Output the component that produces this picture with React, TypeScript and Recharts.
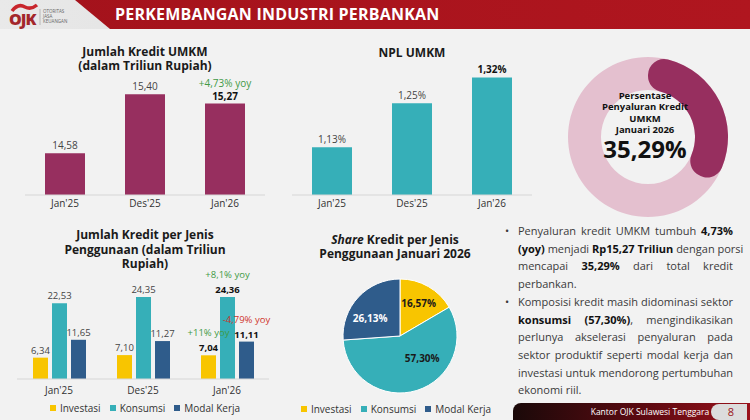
import React from 'react';
import { BarChart, Bar, XAxis, YAxis, PieChart, Pie, Cell } from 'recharts';

const periods = ["Jan'25", "Des'25", "Jan'26"];
const kreditUmkm = [14.58, 15.4, 15.27];
const kreditYoy = '+4,73% yoy';
const nplUmkm = [1.13, 1.25, 1.32];
const jenisNames = ['Investasi', 'Konsumsi', 'Modal Kerja'];
const investasi = [6.34, 7.1, 7.04];
const konsumsi = [22.53, 24.35, 24.36];
const modalKerja = [11.65, 11.27, 11.11];
const jenisYoy = ['+11% yoy', '+8,1% yoy', '-4,79% yoy'];
const shareJan26 = [16.57, 57.3, 26.13];
const porsiUmkm = 35.29;

const FONT = '"Open Sans", "Noto Sans", sans-serif';
const MAROON = '#972f5f';
const PINK = '#e4c0cf';
const TEAL = '#36afb8';
const YELLOW = '#f8c500';
const NAVY = '#2f5c8b';
const GREEN = '#3f9a46';
const RED = '#d0342c';
const jenisColors = [YELLOW, TEAL, NAVY];

const fmt = (v: number) => v.toFixed(2).replace('.', ',');
const last = periods.length - 1;

const kreditData = periods.map((p, i) => ({ period: p, value: kreditUmkm[i] }));
const nplData = periods.map((p, i) => ({ period: p, value: nplUmkm[i] }));
const jenisData = periods.map((p, i) => ({
  period: p,
  Investasi: investasi[i],
  Konsumsi: konsumsi[i],
  'Modal Kerja': modalKerja[i],
}));
const shareData = jenisNames.map((n, i) => ({ name: n, value: shareJan26[i] }));
const porsiData = [
  { name: 'UMKM', value: porsiUmkm },
  { name: 'Lainnya', value: 100 - porsiUmkm },
];

const axisProps = {
  dataKey: 'period',
  height: 25,
  interval: 0 as const,
  tickLine: false,
  tickSize: 0,
  tickMargin: 5,
  axisLine: { stroke: '#d6d6d6' },
  tick: { fontSize: 10, fill: '#333' },
};

const idxOf = (p: any, values: number[]) =>
  typeof p.index === 'number' ? p.index : values.indexOf(p.value);

function KreditChart() {
  const label = (p: any) => {
    const cx = p.x + p.width / 2;
    const bold = idxOf(p, kreditUmkm) === last;
    return (
      <g>
        <text x={cx} y={p.y - 4} textAnchor="middle" fontSize={10} fontWeight={bold ? 700 : 400} fill={bold ? '#111' : '#444'}>
          {fmt(p.value)}
        </text>
        {bold && (
          <text x={cx} y={p.y - 17} textAnchor="middle" fontSize={10} fill={GREEN}>
            {kreditYoy}
          </text>
        )}
      </g>
    );
  };
  return (
    <BarChart width={240} height={180} data={kreditData} margin={{ top: 11, right: 0, bottom: 0, left: 0 }} barSize={40}>
      <XAxis {...axisProps} />
      <YAxis hide domain={[14, 16]} allowDataOverflow />
      <Bar dataKey="value" fill={MAROON} isAnimationActive={false} label={label} />
    </BarChart>
  );
}

function NplChart() {
  const label = (p: any) => {
    const bold = idxOf(p, nplUmkm) === last;
    return (
      <text x={p.x + p.width / 2} y={p.y - 4} textAnchor="middle" fontSize={10} fontWeight={bold ? 700 : 400} fill={bold ? '#111' : '#444'}>
        {fmt(p.value)}%
      </text>
    );
  };
  return (
    <BarChart width={240} height={180} data={nplData} margin={{ top: 8, right: 0, bottom: 0, left: 0 }} barSize={40}>
      <XAxis {...axisProps} />
      <YAxis hide domain={[1, 1.4]} allowDataOverflow />
      <Bar dataKey="value" fill={TEAL} isAnimationActive={false} label={label} />
    </BarChart>
  );
}

function JenisChart() {
  const series = [investasi, konsumsi, modalKerja];
  const makeLabel = (s: number) => (p: any) => {
    const cx = p.x + p.width / 2;
    const bold = idxOf(p, series[s]) === last;
    const yoy = jenisYoy[s];
    return (
      <g>
        <text x={cx} y={p.y - 4} textAnchor="middle" fontSize={9.5} fontWeight={bold ? 700 : 400} fill={bold ? '#111' : '#444'}>
          {fmt(p.value)}
        </text>
        {bold && (
          <text x={cx} y={p.y - 19} textAnchor="middle" fontSize={9.5} fill={yoy.startsWith('-') ? RED : GREEN}>
            {yoy}
          </text>
        )}
      </g>
    );
  };
  return (
    <BarChart width={270} height={144} data={jenisData} margin={{ top: 18, right: 18, bottom: 0, left: 0 }} barSize={15} barGap={4}>
      <XAxis {...axisProps} tickMargin={8} />
      <YAxis hide domain={[0, 30]} allowDataOverflow />
      {jenisNames.map((n, s) => (
        <Bar key={n} dataKey={n} fill={jenisColors[s]} isAnimationActive={false} label={makeLabel(s)} />
      ))}
    </BarChart>
  );
}

function SharePie() {
  const RAD = Math.PI / 180;
  const nudge = [0, 28, 12];
  const dist = [0.66, 0.55, 0.61];
  const label = (p: any) => {
    const i = idxOf(p, shareJan26);
    const a = (p.midAngle + nudge[i]) * RAD;
    const r = p.outerRadius * dist[i];
    return (
      <text x={p.cx + r * Math.cos(a)} y={p.cy - r * Math.sin(a)} textAnchor="middle" dominantBaseline="central" fontSize={10} fontWeight={700} fill={i === 2 ? '#fff' : '#1a1a1a'}>
        {fmt(p.value)}%
      </text>
    );
  };
  return (
    <PieChart width={130} height={130}>
      <Pie data={shareData} dataKey="value" cx={65} cy={65} outerRadius={57} startAngle={90} endAngle={-270} stroke="#fff" strokeWidth={1} labelLine={false} label={label} isAnimationActive={false}>
        {shareData.map((d, i) => (
          <Cell key={d.name} fill={jenisColors[i]} />
        ))}
      </Pie>
    </PieChart>
  );
}

function PorsiDonut() {
  return (
    <PieChart width={170} height={170}>
      <Pie data={[{ name: 'Total', value: 100 }]} dataKey="value" cx={85} cy={85} innerRadius={47} outerRadius={80} startAngle={90} endAngle={-270} fill={PINK} stroke="none" isAnimationActive={false} />
      <Pie data={porsiData} dataKey="value" cx={85} cy={85} innerRadius={47} outerRadius={80} startAngle={90} endAngle={-270} cornerRadius={16} stroke="none" isAnimationActive={false}>
        <Cell fill={MAROON} />
        <Cell fill="transparent" />
      </Pie>
    </PieChart>
  );
}

function Legend({ left, width, top }: { left: number; width: number; top: number }) {
  return (
    <div style={{ position: 'absolute', left, top, width, display: 'flex', justifyContent: 'center', gap: 9, fontSize: 10, color: '#333', lineHeight: '12px' }}>
      {jenisNames.map((n, i) => (
        <div key={n} style={{ display: 'flex', alignItems: 'center' }}>
          <span style={{ display: 'inline-block', width: 6, height: 6, background: jenisColors[i], marginRight: 4 }} />
          {n}
        </div>
      ))}
    </div>
  );
}

const B = ({ children }: { children: React.ReactNode }) => <b style={{ color: '#111' }}>{children}</b>;

const lines1: React.ReactNode[] = [
  <>Penyaluran kredit UMKM tumbuh <B>4,73%</B></>,
  <><B>(yoy)</B> menjadi <B>Rp15,27 Triliun</B> dengan porsi</>,
  <>mencapai <B>35,29%</B> dari total kredit</>,
  <>perbankan.</>,
];
const lines2: React.ReactNode[] = [
  <>Komposisi kredit masih didominasi sektor</>,
  <><B>konsumsi (57,30%)</B>, mengindikasikan</>,
  <>perlunya akselerasi penyaluran pada</>,
  <>sektor produktif seperti modal kerja dan</>,
  <>investasi untuk mendorong pertumbuhan</>,
  <>ekonomi riil.</>,
];

function Bullet({ lines }: { lines: React.ReactNode[] }) {
  return (
    <div style={{ position: 'relative' }}>
      <span style={{ position: 'absolute', left: -13, top: 0 }}>•</span>
      {lines.map((l, i) => (
        <div key={i} style={{ whiteSpace: 'nowrap', textAlign: 'justify', textAlignLast: i === lines.length - 1 ? 'left' : 'justify' }}>
          {l}
        </div>
      ))}
    </div>
  );
}

export default function App() {
  const title: React.CSSProperties = {
    position: 'absolute',
    textAlign: 'center',
    fontWeight: 700,
    fontSize: 12,
    color: '#1a1a1a',
  };
  return (
    <div style={{ position: 'absolute', left: 0, top: 0, width: 750, height: 420, overflow: 'hidden', background: '#f2f2f2', fontFamily: FONT }}>
      {/* header */}
      <div style={{ position: 'absolute', left: 0, top: 0, width: 750, height: 29, background: 'linear-gradient(90deg,#e9e9e9,#d2d2d2)' }} />
      <div style={{ position: 'absolute', left: 0, top: 0, width: 750, height: 29, background: 'linear-gradient(90deg,#a3121b,#b0161f)', clipPath: 'polygon(75px 0, 750px 0, 750px 29px, 110px 29px)' }} />
      <svg style={{ position: 'absolute', left: 0, top: 0 }} width={78} height={29}>
        <path d="M12 11 Q18 3 25 7 Q31 10 37 5" stroke="#c8262c" strokeWidth={3.5} fill="none" />
        <text x={9} y={25} fontSize={16} fontWeight={800} fill="#a3262b" letterSpacing={-1}>OJK</text>
        <line x1={40} y1={9} x2={40} y2={25} stroke="#999" strokeWidth={0.6} />
        <text x={43} y={13} fontSize={4.5} fill="#666">OTORITAS</text>
        <text x={43} y={18} fontSize={4.5} fill="#666">JASA</text>
        <text x={43} y={23} fontSize={4.5} fill="#666">KEUANGAN</text>
      </svg>
      <div style={{ position: 'absolute', left: 115, top: 3, color: '#fff', fontWeight: 700, fontSize: 16, lineHeight: '22px', letterSpacing: 0.2 }}>
        PERKEMBANGAN INDUSTRI PERBANKAN
      </div>

      {/* Jumlah Kredit UMKM */}
      <div style={{ ...title, left: 45, top: 45, width: 200, lineHeight: '13.5px' }}>
        Jumlah Kredit UMKM<br />(dalam Triliun Rupiah)
      </div>
      <div style={{ position: 'absolute', left: 25, top: 40 }}>
        <KreditChart />
      </div>

      {/* NPL UMKM */}
      <div style={{ ...title, left: 332, top: 46, width: 160, lineHeight: '14px' }}>NPL UMKM</div>
      <div style={{ position: 'absolute', left: 292, top: 40 }}>
        <NplChart />
      </div>

      {/* donut */}
      <div style={{ position: 'absolute', left: 558, top: 47 }}>
        <PorsiDonut />
      </div>
      <div style={{ position: 'absolute', left: 585, top: 90, width: 120, textAlign: 'center', color: '#111', fontWeight: 700 }}>
        <div style={{ fontSize: 9.5, lineHeight: '11.3px' }}>
          Persentase<br />Penyaluran Kredit<br />UMKM<br />Januari 2026
        </div>
        <div style={{ fontSize: 24, lineHeight: '28px' }}>{porsiUmkm.toFixed(2).replace('.', ',')}%</div>
      </div>

      {/* per jenis */}
      <div style={{ ...title, left: 35, top: 228, width: 220, lineHeight: '14.5px' }}>
        Jumlah Kredit per Jenis<br />Penggunaan (dalam Triliun<br />Rupiah)
      </div>
      <div style={{ position: 'absolute', left: 17, top: 260 }}>
        <JenisChart />
      </div>
      <Legend left={20} width={250} top={402} />

      {/* share pie */}
      <div style={{ ...title, left: 295, top: 233, width: 200, lineHeight: '13.5px' }}>
        <i>Share</i> Kredit per Jenis<br />Penggunaan Januari 2026
      </div>
      <div style={{ position: 'absolute', left: 330, top: 266 }}>
        <SharePie />
      </div>
      <Legend left={296} width={200} top={403} />

      {/* text */}
      <div style={{ position: 'absolute', left: 518, top: 222, width: 215, fontSize: 11, lineHeight: '17.7px', color: '#3a3a3a' }}>
        <Bullet lines={lines1} />
        <Bullet lines={lines2} />
      </div>

      {/* footer */}
      <div style={{ position: 'absolute', left: 513, top: 403, width: 237, height: 17, borderTopLeftRadius: 8, background: 'linear-gradient(90deg,#1a0909,#5c0a11 55%,#9a111b)' }} />
      <div style={{ position: 'absolute', left: 560, top: 403, width: 180, height: 17, lineHeight: '17px', textAlign: 'center', color: '#fff', fontSize: 8.5 }}>
        Kantor OJK Sulawesi Tenggara
      </div>
      <div style={{ position: 'absolute', left: 711, top: 404, width: 36, height: 16, borderRadius: '8px 0 0 8px', background: '#dcdcdc', color: '#9b1620', fontSize: 11, lineHeight: '16px', textAlign: 'center', paddingLeft: 4, boxSizing: 'border-box' }}>
        8
      </div>
    </div>
  );
}
